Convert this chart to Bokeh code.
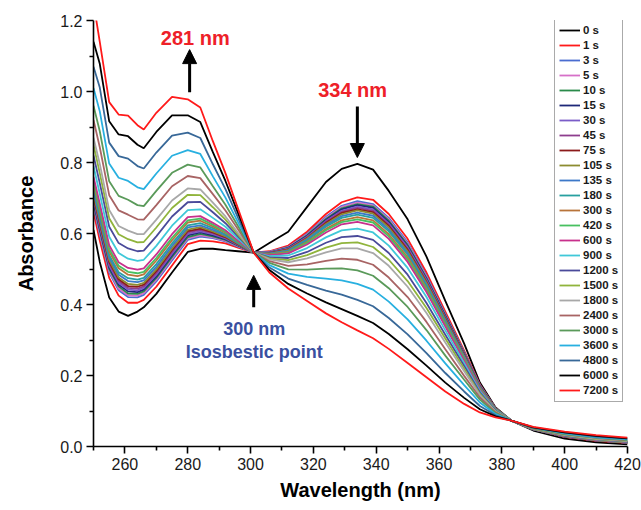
from bokeh.plotting import figure
from bokeh.models import (Range1d, FixedTicker, NumeralTickFormatter, Legend,
                          LegendItem, Arrow, NormalHead, Label)
from bokeh.embed import file_html
from bokeh.resources import INLINE

# ---------------- data ----------------
wavelength = [250, 252, 255, 258, 261, 264, 266, 270, 275, 280, 284, 288, 292, 296,
              301, 306, 312, 318, 324, 329, 334, 339, 344, 350, 356, 362, 368, 373,
              378, 383, 390, 400, 410, 420]

abs_0s = [0.61, 0.52, 0.42, 0.38, 0.368, 0.38, 0.392, 0.43, 0.49, 0.548, 0.557, 0.557, 0.553, 0.55,
          0.546, 0.573, 0.605, 0.675, 0.745, 0.782, 0.796, 0.78, 0.72, 0.64, 0.535, 0.41, 0.29, 0.18,
          0.11, 0.073, 0.045, 0.022, 0.012, 0.006]
abs_1s = [0.66, 0.58, 0.475, 0.425, 0.405, 0.405, 0.413, 0.45, 0.51, 0.57, 0.58, 0.578, 0.572, 0.56,
          0.546, 0.55, 0.566, 0.605, 0.655, 0.688, 0.702, 0.695, 0.655, 0.585, 0.49, 0.38, 0.27, 0.175,
          0.108, 0.073, 0.048, 0.027, 0.016, 0.010]
abs_3s = [0.675, 0.597, 0.490, 0.440, 0.421, 0.420, 0.427, 0.465, 0.524, 0.582, 0.591, 0.587, 0.578, 0.563,
          0.546, 0.548, 0.562, 0.599, 0.647, 0.678, 0.691, 0.683, 0.644, 0.575, 0.481, 0.373, 0.266, 0.173,
          0.107, 0.073, 0.048, 0.028, 0.017, 0.011]
abs_5s = [0.68, 0.602, 0.495, 0.445, 0.426, 0.425, 0.432, 0.470, 0.529, 0.586, 0.595, 0.589, 0.580, 0.564,
          0.546, 0.548, 0.561, 0.597, 0.644, 0.675, 0.687, 0.679, 0.640, 0.571, 0.478, 0.371, 0.264, 0.172,
          0.107, 0.073, 0.048, 0.028, 0.017, 0.011]
abs_10s = [0.685, 0.608, 0.500, 0.451, 0.431, 0.430, 0.437, 0.475, 0.534, 0.590, 0.599, 0.592, 0.582, 0.566,
           0.546, 0.547, 0.560, 0.595, 0.641, 0.671, 0.683, 0.676, 0.636, 0.568, 0.475, 0.369, 0.263, 0.171,
           0.107, 0.073, 0.048, 0.028, 0.017, 0.011]
abs_15s = [0.69, 0.614, 0.505, 0.456, 0.437, 0.435, 0.442, 0.479, 0.539, 0.595, 0.603, 0.595, 0.584, 0.567,
           0.546, 0.546, 0.559, 0.593, 0.638, 0.668, 0.680, 0.672, 0.632, 0.564, 0.472, 0.367, 0.261, 0.170,
           0.106, 0.073, 0.048, 0.028, 0.017, 0.011]
abs_30s = [0.695, 0.619, 0.510, 0.461, 0.442, 0.440, 0.447, 0.484, 0.543, 0.599, 0.606, 0.598, 0.586, 0.568,
           0.546, 0.546, 0.558, 0.591, 0.635, 0.664, 0.676, 0.668, 0.628, 0.561, 0.469, 0.364, 0.260, 0.170,
           0.106, 0.073, 0.049, 0.028, 0.017, 0.011]
abs_45s = [0.70, 0.625, 0.515, 0.466, 0.447, 0.445, 0.451, 0.489, 0.548, 0.603, 0.610, 0.601, 0.588, 0.569,
           0.546, 0.545, 0.556, 0.589, 0.633, 0.661, 0.672, 0.664, 0.625, 0.557, 0.466, 0.362, 0.258, 0.169,
           0.106, 0.073, 0.049, 0.028, 0.017, 0.011]
abs_75s = [0.705, 0.630, 0.520, 0.471, 0.452, 0.450, 0.456, 0.494, 0.553, 0.607, 0.614, 0.603, 0.590, 0.570,
           0.546, 0.545, 0.555, 0.587, 0.630, 0.658, 0.668, 0.660, 0.621, 0.554, 0.463, 0.360, 0.257, 0.168,
           0.106, 0.073, 0.049, 0.028, 0.017, 0.011]
abs_105s = [0.71, 0.636, 0.525, 0.476, 0.458, 0.455, 0.461, 0.499, 0.558, 0.611, 0.618, 0.606, 0.592, 0.571,
            0.546, 0.544, 0.554, 0.586, 0.627, 0.654, 0.665, 0.656, 0.617, 0.550, 0.461, 0.358, 0.255, 0.167,
            0.105, 0.073, 0.049, 0.029, 0.018, 0.012]
abs_135s = [0.72, 0.644, 0.532, 0.484, 0.466, 0.463, 0.468, 0.506, 0.565, 0.617, 0.623, 0.610, 0.595, 0.573,
            0.546, 0.543, 0.552, 0.583, 0.623, 0.649, 0.659, 0.650, 0.611, 0.545, 0.456, 0.354, 0.253, 0.166,
            0.105, 0.073, 0.049, 0.029, 0.018, 0.012]
abs_180s = [0.73, 0.653, 0.539, 0.491, 0.474, 0.470, 0.475, 0.514, 0.572, 0.623, 0.629, 0.615, 0.598, 0.574,
            0.546, 0.542, 0.550, 0.580, 0.619, 0.644, 0.653, 0.644, 0.606, 0.540, 0.452, 0.351, 0.251, 0.165,
            0.105, 0.073, 0.049, 0.029, 0.018, 0.012]
abs_300s = [0.74, 0.664, 0.549, 0.502, 0.484, 0.480, 0.485, 0.524, 0.581, 0.631, 0.636, 0.620, 0.602, 0.577,
            0.546, 0.541, 0.548, 0.576, 0.613, 0.637, 0.646, 0.637, 0.598, 0.533, 0.446, 0.346, 0.248, 0.163,
            0.104, 0.073, 0.049, 0.029, 0.018, 0.012]
abs_420s = [0.75, 0.672, 0.557, 0.509, 0.492, 0.488, 0.492, 0.531, 0.588, 0.637, 0.642, 0.625, 0.605, 0.578,
            0.546, 0.540, 0.546, 0.573, 0.609, 0.632, 0.640, 0.631, 0.592, 0.527, 0.441, 0.343, 0.245, 0.162,
            0.104, 0.073, 0.049, 0.030, 0.019, 0.013]
abs_600s = [0.76, 0.684, 0.567, 0.519, 0.503, 0.498, 0.502, 0.541, 0.598, 0.646, 0.649, 0.630, 0.609, 0.580,
            0.546, 0.539, 0.544, 0.569, 0.603, 0.626, 0.633, 0.623, 0.585, 0.520, 0.435, 0.338, 0.242, 0.160,
            0.103, 0.073, 0.049, 0.030, 0.019, 0.013]
abs_900s = [0.79, 0.712, 0.591, 0.545, 0.529, 0.523, 0.526, 0.565, 0.622, 0.666, 0.668, 0.644, 0.619, 0.586,
            0.546, 0.536, 0.538, 0.559, 0.589, 0.609, 0.614, 0.603, 0.566, 0.503, 0.421, 0.327, 0.235, 0.156,
            0.102, 0.073, 0.050, 0.031, 0.020, 0.014]
abs_1200s = [0.82, 0.742, 0.619, 0.573, 0.558, 0.550, 0.552, 0.592, 0.648, 0.688, 0.689, 0.660, 0.629, 0.592,
             0.546, 0.533, 0.531, 0.548, 0.574, 0.590, 0.593, 0.582, 0.545, 0.484, 0.404, 0.315, 0.227, 0.152,
             0.101, 0.073, 0.050, 0.031, 0.021, 0.014]
abs_1500s = [0.85, 0.770, 0.643, 0.598, 0.584, 0.575, 0.576, 0.617, 0.672, 0.709, 0.708, 0.674, 0.639, 0.597,
             0.546, 0.530, 0.525, 0.539, 0.560, 0.573, 0.575, 0.562, 0.526, 0.466, 0.390, 0.304, 0.219, 0.148,
             0.099, 0.073, 0.050, 0.032, 0.021, 0.015]
abs_1800s = [0.87, 0.796, 0.666, 0.621, 0.608, 0.598, 0.598, 0.639, 0.693, 0.727, 0.724, 0.687, 0.648, 0.602,
             0.546, 0.527, 0.519, 0.530, 0.547, 0.558, 0.558, 0.545, 0.509, 0.450, 0.376, 0.293, 0.212, 0.145,
             0.098, 0.073, 0.051, 0.033, 0.022, 0.016]
abs_2400s = [0.92, 0.843, 0.708, 0.665, 0.653, 0.640, 0.639, 0.680, 0.733, 0.762, 0.756, 0.711, 0.665, 0.612,
             0.546, 0.522, 0.509, 0.513, 0.523, 0.529, 0.526, 0.512, 0.476, 0.421, 0.351, 0.274, 0.199, 0.138,
             0.096, 0.073, 0.051, 0.034, 0.024, 0.017]
abs_3000s = [0.96, 0.888, 0.747, 0.706, 0.695, 0.680, 0.677, 0.720, 0.771, 0.794, 0.786, 0.733, 0.681, 0.621,
             0.546, 0.517, 0.499, 0.498, 0.501, 0.502, 0.496, 0.481, 0.446, 0.393, 0.328, 0.256, 0.188, 0.132,
             0.094, 0.073, 0.052, 0.035, 0.025, 0.018]
abs_3600s = [1.01, 0.944, 0.797, 0.757, 0.748, 0.730, 0.725, 0.769, 0.819, 0.835, 0.824, 0.761, 0.701, 0.632,
             0.546, 0.511, 0.487, 0.478, 0.473, 0.468, 0.458, 0.442, 0.408, 0.358, 0.298, 0.234, 0.173, 0.124,
             0.091, 0.073, 0.053, 0.037, 0.026, 0.020]
abs_4800s = [1.07, 1.011, 0.856, 0.818, 0.811, 0.790, 0.783, 0.828, 0.876, 0.884, 0.869, 0.795, 0.725, 0.645,
             0.546, 0.504, 0.473, 0.455, 0.439, 0.428, 0.413, 0.395, 0.362, 0.316, 0.263, 0.207, 0.155, 0.114,
             0.088, 0.073, 0.053, 0.039, 0.028, 0.022]
abs_6000s = [1.14, 1.078, 0.916, 0.879, 0.874, 0.850, 0.840, 0.886, 0.933, 0.933, 0.914, 0.829, 0.748, 0.658,
             0.546, 0.497, 0.458, 0.431, 0.406, 0.387, 0.368, 0.348, 0.317, 0.274, 0.228, 0.180, 0.137, 0.105,
             0.085, 0.073, 0.054, 0.040, 0.030, 0.023]
abs_7200s = [1.25, 1.14, 0.97, 0.935, 0.932, 0.905, 0.893, 0.94, 0.985, 0.978, 0.955, 0.86, 0.77, 0.67,
             0.546, 0.49, 0.445, 0.41, 0.375, 0.35, 0.327, 0.305, 0.275, 0.235, 0.195, 0.155, 0.12, 0.096,
             0.082, 0.073, 0.055, 0.042, 0.032, 0.025]

time_labels = ["0 s", "1 s", "3 s", "5 s", "10 s", "15 s", "30 s", "45 s", "75 s", "105 s",
               "135 s", "180 s", "300 s", "420 s", "600 s", "900 s", "1200 s", "1500 s",
               "1800 s", "2400 s", "3000 s", "3600 s", "4800 s", "6000 s", "7200 s"]
series_values = [abs_0s, abs_1s, abs_3s, abs_5s, abs_10s, abs_15s, abs_30s, abs_45s, abs_75s,
                 abs_105s, abs_135s, abs_180s, abs_300s, abs_420s, abs_600s, abs_900s,
                 abs_1200s, abs_1500s, abs_1800s, abs_2400s, abs_3000s, abs_3600s,
                 abs_4800s, abs_6000s, abs_7200s]
series_colors = ["#000000", "#FF1A1A", "#4A6CD0", "#D670C8", "#2A8A4A", "#1E2878", "#7A5CC8",
                 "#8E3D8E", "#8B1A1A", "#8C8C30", "#3C78C8", "#28A0A0", "#B8743A", "#48C060",
                 "#C8308C", "#40C8D8", "#4A4A9A", "#90B43C", "#A8A8A8", "#A86464", "#5A9A5A",
                 "#28B0E0", "#386898", "#000000", "#FF1A1A"]

x_ticks = [260, 280, 300, 320, 340, 360, 380, 400, 420]
x_minor = [250, 270, 290, 310, 330, 350, 370, 390, 410]
y_ticks = [0.0, 0.2, 0.4, 0.6, 0.8, 1.0, 1.2]
y_minor = [0.1, 0.3, 0.5, 0.7, 0.9, 1.1]

FONT = "Liberation Sans"

p = figure(width=641, height=510, output_backend="svg", toolbar_location=None,
           x_range=Range1d(250, 420), y_range=Range1d(0, 1.2),
           min_border_left=93, min_border_right=14, min_border_top=20, min_border_bottom=64)
p.outline_line_color = None
p.xgrid.visible = False
p.ygrid.visible = False
p.background_fill_color = "white"

p.xaxis.ticker = FixedTicker(ticks=x_ticks, minor_ticks=x_minor)
p.yaxis.ticker = FixedTicker(ticks=y_ticks, minor_ticks=y_minor)
p.yaxis.formatter = NumeralTickFormatter(format="0.0")
p.xaxis.axis_label = "Wavelength (nm)"
p.yaxis.axis_label = "Absorbance"

for ax in (p.xaxis[0], p.yaxis[0]):
    ax.axis_line_color = "black"
    ax.axis_line_width = 1.6
    ax.major_tick_line_color = "black"
    ax.major_tick_line_width = 1.6
    ax.minor_tick_line_color = "black"
    ax.minor_tick_line_width = 1.6
    ax.major_tick_in = 0
    ax.major_tick_out = 7
    ax.minor_tick_in = 0
    ax.minor_tick_out = 4
    ax.major_label_text_font = FONT
    ax.major_label_text_font_size = "16px"
    ax.major_label_text_color = "#1a1a1a"
    ax.axis_label_text_font = FONT
    ax.axis_label_text_font_style = "bold"
    ax.axis_label_text_font_size = "20px"
    ax.axis_label_text_color = "black"
p.xaxis.major_label_standoff = 4
p.xaxis.axis_label_standoff = 6
p.yaxis.major_label_standoff = 4
p.yaxis.axis_label_standoff = 20

items = []
for label, vals, col in zip(time_labels, series_values, series_colors):
    r = p.line(wavelength, vals, line_color=col, line_width=1.8)
    items.append(LegendItem(label=label, renderers=[r]))

legend = Legend(items=items, location=(461, 44))
legend.glyph_width = 21
legend.glyph_height = 14
legend.label_height = 14
legend.spacing = 1
legend.padding = 4
legend.label_standoff = 3
legend.label_text_font = FONT
legend.label_text_font_style = "bold"
legend.label_text_font_size = "11.5px"
legend.label_text_color = "#1a1a1a"
legend.border_line_color = "#555555"
legend.border_line_width = 1.5
legend.background_fill_color = "white"
legend.background_fill_alpha = 1.0
p.add_layout(legend)

RED = "#EE2028"
BLUE = "#3A50A0"

p.add_layout(Label(x=282.4, y=1.15, text="281 nm", text_align="center", text_baseline="middle",
                   text_font=FONT, text_font_style="bold", text_font_size="20px", text_color=RED))
p.add_layout(Label(x=332.5, y=1.003, text="334 nm", text_align="center", text_baseline="middle",
                   text_font=FONT, text_font_style="bold", text_font_size="20px", text_color=RED))
p.add_layout(Label(x=301.2, y=0.331, text="300 nm", text_align="center", text_baseline="middle",
                   text_font=FONT, text_font_style="bold", text_font_size="18px", text_color=BLUE))
p.add_layout(Label(x=301.2, y=0.266, text="Isosbestic point", text_align="center", text_baseline="middle",
                   text_font=FONT, text_font_style="bold", text_font_size="18px", text_color=BLUE))

for xs, ys, xe, ye in [(280.6, 0.998, 280.6, 1.118), (334.0, 0.958, 334.0, 0.814),
                       (301.0, 0.392, 301.0, 0.482)]:
    p.add_layout(Arrow(x_start=xs, y_start=ys, x_end=xe, y_end=ye, line_width=3, line_color="black",
                       end=NormalHead(size=14, fill_color="black", line_color="black", line_width=1)))

open("out.html", "w").write(file_html(p, INLINE))
